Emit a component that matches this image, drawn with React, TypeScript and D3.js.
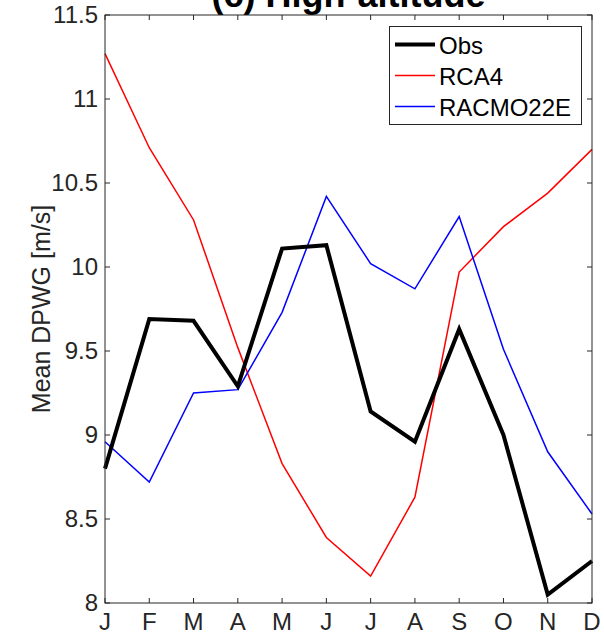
import React, { useEffect, useRef } from "react";
import * as d3 from "d3";

const months = ["J", "F", "M", "A", "M", "J", "J", "A", "S", "O", "N", "D"];
const obs = [8.8, 9.69, 9.68, 9.29, 10.11, 10.13, 9.14, 8.96, 9.63, 9.0, 8.05, 8.25];
const rca4 = [11.27, 10.71, 10.28, 9.52, 8.83, 8.39, 8.16, 8.63, 9.97, 10.24, 10.44, 10.7];
const racmo = [8.96, 8.72, 9.25, 9.27, 9.73, 10.42, 10.02, 9.87, 10.3, 9.51, 8.9, 8.53];
const yTicks = [8, 8.5, 9, 9.5, 10, 10.5, 11, 11.5];

const series = [
  { name: "Obs", values: obs, color: "#000000", width: 4 },
  { name: "RCA4", values: rca4, color: "#ff0000", width: 1.5 },
  { name: "RACMO22E", values: racmo, color: "#0000ff", width: 1.5 },
];

const W = 604, H = 635;
const margin = { top: 15, right: 12, bottom: 32, left: 105 };
const font = "'Liberation Sans', Arial, Helvetica, sans-serif";
const axisColor = "#262626";
const fs = 24;

export default function App() {
  const ref = useRef<SVGSVGElement>(null);

  useEffect(() => {
    const svg = d3.select(ref.current);
    svg.selectAll("*").remove();

    const x = d3.scaleLinear().domain([0, 11]).range([margin.left, W - margin.right]);
    const y = d3.scaleLinear().domain([8, 11.5]).range([H - margin.bottom, margin.top]);

    const x0 = x(0), x1 = x(11), y0 = y(8), y1 = y(11.5);

    // title, mostly cut off at top like the reference
    svg.append("text")
      .attr("x", (x0 + x1) / 2).attr("y", 7)
      .attr("text-anchor", "middle")
      .attr("font-family", font).attr("font-weight", "bold")
      .attr("font-size", 36).attr("fill", "#000")
      .text("(c) High-altitude");

    // lines
    const line = d3.line<number>()
      .x((_, i) => x(i))
      .y((d) => y(d));

    const g = svg.append("g");
    // draw RCA4 and RACMO first, then Obs on top
    [series[1], series[2], series[0]].forEach((s) => {
      g.append("path")
        .datum(s.values)
        .attr("fill", "none")
        .attr("stroke", s.color)
        .attr("stroke-width", s.width)
        .attr("stroke-linejoin", "miter")
        .attr("d", line);
    });

    // axes box
    const ax = svg.append("g").attr("stroke", axisColor).attr("stroke-width", 1).attr("fill", "none");
    ax.append("rect").attr("x", x0).attr("y", y1).attr("width", x1 - x0).attr("height", y0 - y1);

    const tl = 5;
    months.forEach((_, i) => {
      ax.append("line").attr("x1", x(i)).attr("x2", x(i)).attr("y1", y0).attr("y2", y0 - tl);
      ax.append("line").attr("x1", x(i)).attr("x2", x(i)).attr("y1", y1).attr("y2", y1 + tl);
    });
    yTicks.forEach((t) => {
      ax.append("line").attr("x1", x0).attr("x2", x0 + tl).attr("y1", y(t)).attr("y2", y(t));
      ax.append("line").attr("x1", x1).attr("x2", x1 - tl).attr("y1", y(t)).attr("y2", y(t));
    });

    // tick labels
    svg.append("g").selectAll("text").data(months).join("text")
      .attr("x", (_, i) => x(i)).attr("y", y0 + 27)
      .attr("text-anchor", "middle")
      .attr("font-family", font).attr("font-size", fs).attr("fill", axisColor)
      .text((d) => d);

    svg.append("g").selectAll("text").data(yTicks).join("text")
      .attr("x", x0 - 7).attr("y", (d) => y(d)).attr("dy", "0.35em")
      .attr("text-anchor", "end")
      .attr("font-family", font).attr("font-size", fs).attr("fill", axisColor)
      .text((d) => String(d));

    // y label
    svg.append("text")
      .attr("transform", `translate(50, ${(y0 + y1) / 2}) rotate(-90)`)
      .attr("text-anchor", "middle")
      .attr("font-family", font).attr("font-size", 25).attr("fill", axisColor)
      .text("Mean DPWG [m/s]");

    // legend
    const lg = svg.append("g");
    lg.append("rect")
      .attr("x", 389.5).attr("y", 26.5).attr("width", 192).attr("height", 98)
      .attr("fill", "#fff").attr("stroke", axisColor).attr("stroke-width", 1);
    series.forEach((s, i) => {
      const cy = 44.5 + i * 31;
      lg.append("line")
        .attr("x1", 395).attr("x2", 435).attr("y1", cy).attr("y2", cy)
        .attr("stroke", s.color).attr("stroke-width", s.width);
      lg.append("text")
        .attr("x", 439).attr("y", cy + 9.5)
        .attr("font-family", font).attr("font-size", fs).attr("fill", "#000")
        .text(s.name);
    });
  }, []);

  return (
    <svg ref={ref} width={W} height={H}
      style={{ position: "absolute", left: 0, top: 0, background: "#fff" }} />
  );
}
